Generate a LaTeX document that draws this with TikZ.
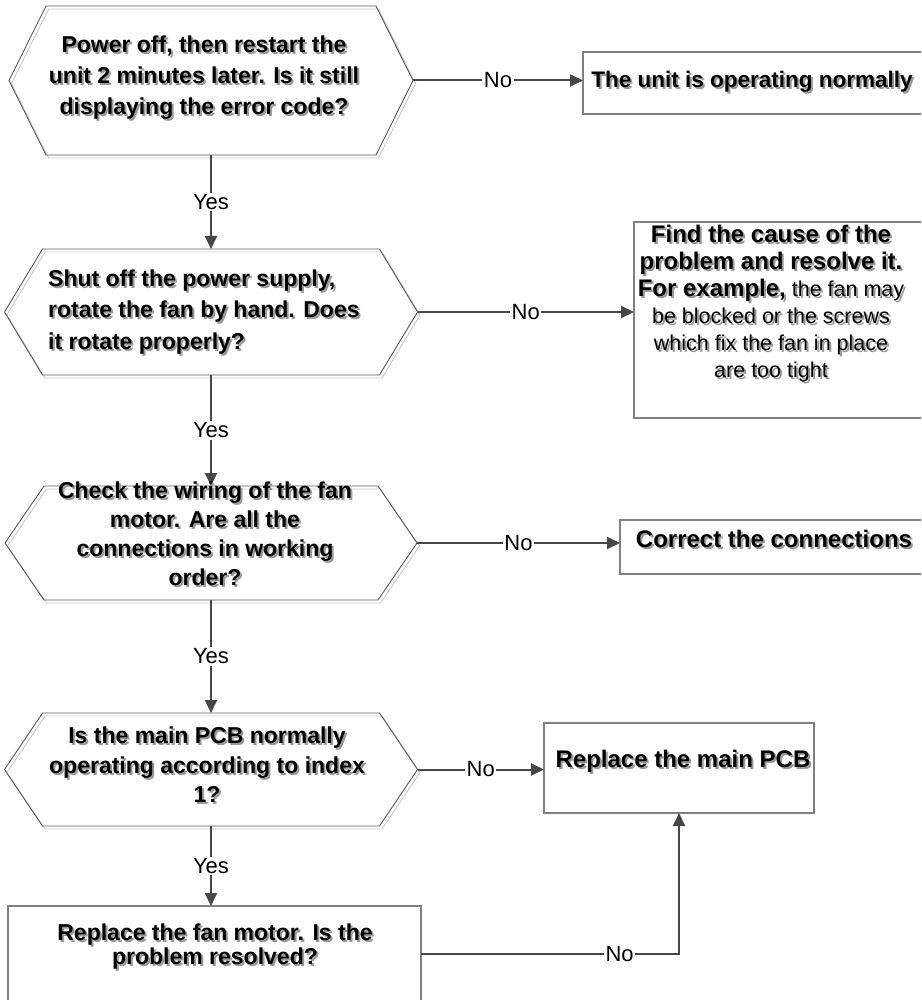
\documentclass[tikz,border=0pt]{standalone}
\usepackage{fontspec}
\setmainfont{Liberation Sans}
\usetikzlibrary{arrows.meta}
\definecolor{conngray}{HTML}{474747}
\definecolor{hexdark}{HTML}{5a5a5a}
\definecolor{hexlight}{HTML}{c8c8c8}
\definecolor{boxgray}{HTML}{808080}
\definecolor{shadowgray}{HTML}{9a9a9a}
\newcommand\sh[1]{\rlap{\kern2pt\raisebox{-2pt}{\color{shadowgray}#1}}#1}
\newcommand\hexdraw[2]{%
 \draw[hexlight, line width=0.9pt] ([xshift=2.5pt,yshift=-3pt]#1.west) -- ([xshift=#2+2.5pt,yshift=-3pt]#1.north west) -- ([xshift=-#2+2.5pt,yshift=-3pt]#1.north east) -- ([xshift=2.5pt,yshift=-3pt]#1.east) -- ([xshift=-#2+2.5pt,yshift=-3pt]#1.south east) -- ([xshift=#2+2.5pt,yshift=-3pt]#1.south west) -- cycle;
 \draw[hexdark, line width=0.9pt] (#1.west) -- ([xshift=#2]#1.north west) -- ([xshift=-#2]#1.north east) -- (#1.east) -- ([xshift=-#2]#1.south east) -- ([xshift=#2]#1.south west) -- cycle;}
\newcommand\bl[1]{{\fontsize{24}{27}\selectfont\bfseries #1}}
\begin{document}
\begin{tikzpicture}[x=1pt, y=-1pt,
  hexshape/.style={inner sep=0pt, outer sep=0pt},
  rbox/.style={draw=boxgray, line width=1.2pt, inner sep=0pt, outer sep=0pt},
  hextext/.style={font=\fontsize{23}{30}\selectfont\bfseries, align=center, inner sep=0pt},
  boxtext/.style={font=\fontsize{24}{26}\selectfont\bfseries, align=center, inner sep=0pt},
  lab/.style={fill=white, inner sep=1.5pt, font=\fontsize{22}{24}\selectfont, text=black},
  conn/.style={draw=conngray, line width=2pt, -{Triangle[length=13pt,width=12pt]}}]
\clip (0,0) rectangle (921,1000);
% shapes
\node[hexshape, minimum width=404pt, minimum height=149pt] (h1) at (211,80.5) {};
\node[hexshape, minimum width=413pt, minimum height=126pt] (h2) at (211,312) {};
\node[hexshape, minimum width=412pt, minimum height=114pt] (h3) at (211,543) {};
\node[hexshape, minimum width=413pt, minimum height=113pt] (h4) at (211,769.5) {};
\hexdraw{h1}{37pt}
\hexdraw{h2}{38pt}
\hexdraw{h3}{39pt}
\hexdraw{h4}{38pt}
\node[rbox, minimum width=340pt, minimum height=62pt] (b1) at (753,83) {};
\node[rbox, minimum width=289pt, minimum height=196pt] (b2) at (778.5,320) {};
\node[rbox, minimum width=303pt, minimum height=54pt] (b3) at (771.5,547) {};
\node[rbox, minimum width=270pt, minimum height=90pt] (b4) at (679,768) {};
\node[rbox, minimum width=413pt, minimum height=96pt] (b5) at (214.5,954) {};
% connectors
\draw[conn] (h1.east) -- node[lab] (n1) {No} (h1.east -| b1.west);
\draw[conn] (h1.south) -- node[lab] (y1) {Yes} (h2.north);
\draw[conn] (h2.east) -- node[lab] (n2) {No} (h2.east -| b2.west);
\draw[conn] (h2.south) -- node[lab] (y2) {Yes} (h3.north);
\draw[conn] (h3.east) -- node[lab] (n3) {No} (h3.east -| b3.west);
\draw[conn] (h3.south) -- node[lab] (y3) {Yes} (h4.north);
\draw[conn] (h4.east) -- node[lab] (n4) {No} (h4.east -| b4.west);
\draw[conn] (h4.south) -- node[lab] (y4) {Yes} (h4.south |- b5.north);
\draw[conn] (b5.east) -- node[lab, pos=0.77] (n5) {No} (b5.east -| b4.south) -- (b4.south);
% texts
\node[hextext, font=\fontsize{23}{31}\selectfont\bfseries] (t1) at (204,79) {\sh{Power off, then restart the}\\\sh{unit 2 minutes later. Is it still}\\\sh{displaying the error code?}};
\node[hextext, align=left, anchor=west, font=\fontsize{23}{31.5}\selectfont\bfseries] (t2) at (48,313) {\sh{Shut off the power supply,}\\\sh{rotate the fan by hand. Does}\\\sh{it rotate properly?}};
\node[hextext, font=\fontsize{23}{29}\selectfont\bfseries] (t3) at (205,535) {\sh{Check the wiring of the fan}\\\sh{motor. Are all the}\\\sh{connections in working}\\\sh{order?}};
\node[hextext, font=\fontsize{23}{29.5}\selectfont\bfseries] (t4) at (207,766) {\sh{Is the main PCB normally}\\\sh{operating according to index}\\\sh{1?}};
\node[boxtext, font=\fontsize{22.5}{26}\selectfont\bfseries] (tb1) at (752,83) {\sh{The unit is operating normally}};
\node[boxtext, font=\fontsize{21.5}{27}\selectfont] (tb2) at (771,305) {\sh{\bl{Find the cause of the}}\\\sh{\bl{problem and resolve it.}}\\\sh{\bl{For example,}\ the fan may}\\\sh{be blocked or the screws}\\\sh{which fix the fan in place}\\\sh{are too tight}};
\node[boxtext] (tb3) at (774,540) {\sh{Correct the connections}};
\node[boxtext] (tb4) at (683,762) {\sh{Replace the main PCB}};
\node[boxtext, font=\fontsize{23}{24}\selectfont\bfseries] (tb5) at (215,948) {\sh{Replace the fan motor. Is the}\\\sh{problem resolved?}};
\end{tikzpicture}
\end{document}
